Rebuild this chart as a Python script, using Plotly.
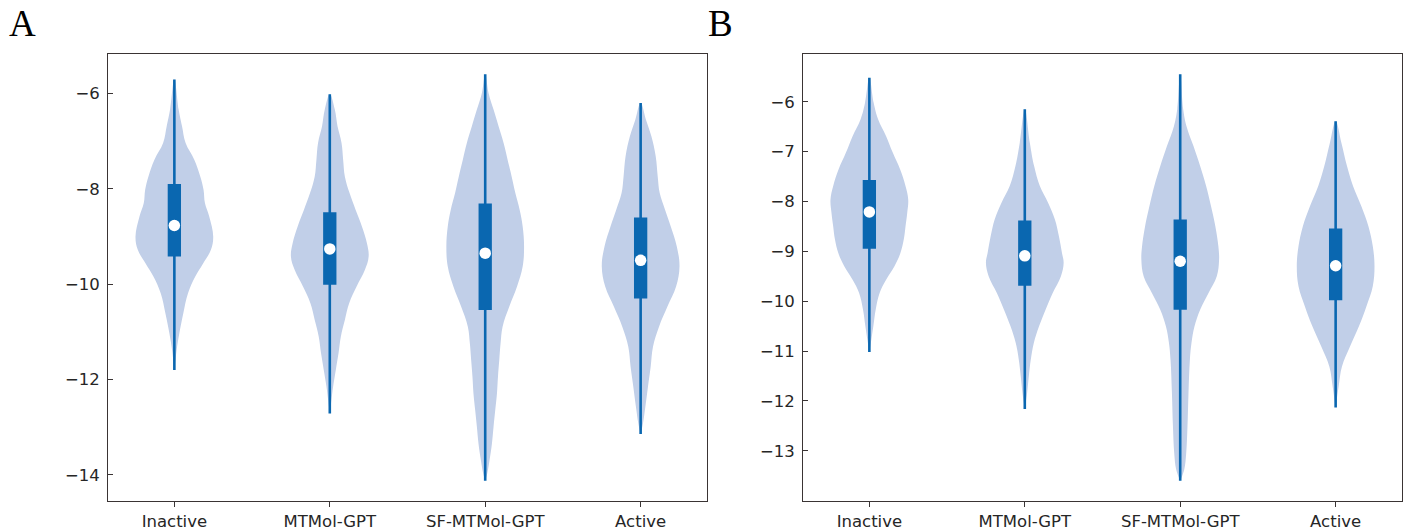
import plotly.graph_objects as go

categories = ["Inactive", "MTMol-GPT", "SF-MTMol-GPT", "Active"]
positions = [1, 2, 3, 4]

# ---------------- Panel A : violin outlines (value levels, relative density) ----------------
a_inactive_y = [-5.71, -6.34, -6.69, -7.04, -7.39, -7.74, -8.02, -8.30, -8.58, -9.00, -9.28, -9.56,
                -9.84, -10.19, -10.61, -11.03, -11.38, -11.80]
a_inactive_w = [0, 4.3, 7.7, 11.3, 20, 26, 29.3, 30.7, 35, 39, 36.7, 29, 21, 13.7, 9, 5, 2.3, 0]

a_mtmol_y = [-6.02, -6.34, -6.69, -7.04, -7.39, -7.74, -8.09, -8.44, -8.79, -9.14, -9.42, -9.70, -10.05,
             -10.40, -10.75, -11.10, -11.45, -11.80, -12.15, -12.45, -12.71]
a_mtmol_w = [0, 5, 7.7, 11.7, 13.3, 15, 19.7, 25.7, 32, 37, 38.7, 35, 26.7, 19.3, 15, 11, 8.7, 6, 3.3, 1.5, 0]

a_sf_y = [-5.60, -5.99, -6.34, -6.69, -7.04, -7.39, -7.74, -8.09, -8.44, -8.79, -9.21, -9.63, -10.05,
          -10.47, -10.89, -11.24, -11.59, -11.94, -12.29, -12.64, -12.99, -13.34, -13.69, -13.97, -14.12]
a_sf_w = [0, 3.3, 8.3, 13.3, 18.3, 22.3, 26.3, 30, 34.3, 37.3, 38.7, 37.3, 31.7, 24, 17.3, 15.3, 14,
          12.7, 11.7, 10, 8.3, 6.7, 4.3, 2, 0]

a_active_y = [-6.20, -6.55, -6.90, -7.32, -7.74, -8.09, -8.44, -8.79, -9.21, -9.63, -10.05, -10.47,
              -10.89, -11.31, -11.73, -12.15, -12.57, -12.92, -13.14]
a_active_w = [0, 5.3, 10.7, 15, 17, 19, 24.3, 30, 36, 38.7, 35.3, 26.7, 18.3, 12.3, 10, 7.3, 4.7, 2.3, 0]

a_max = [-5.71, -6.02, -5.60, -6.20]
a_q3 = [-7.90, -8.49, -8.31, -8.60]
a_med = [-8.77, -9.26, -9.35, -9.50]
a_q1 = [-9.42, -10.01, -10.54, -10.30]
a_min = [-11.80, -12.71, -14.12, -13.14]

# ---------------- Panel B ----------------
b_inactive_y = [-5.52, -6.02, -6.35, -6.69, -7.02, -7.36, -7.69, -7.96, -8.23, -8.50, -8.76, -9.03,
                -9.30, -9.57, -9.83, -10.17, -10.50, -10.77, -11.02]
b_inactive_w = [0, 4.3, 8.7, 16.7, 23.3, 30.7, 36, 38.7, 37.7, 36, 34.3, 31, 25, 16.7, 10.3, 6.3, 4, 2, 0]

b_mtmol_y = [-6.15, -6.82, -7.29, -7.69, -8.03, -8.36, -8.70, -9.03, -9.23, -9.50, -9.84, -10.17,
             -10.50, -10.84, -11.17, -11.51, -11.84, -12.16]
b_mtmol_w = [0, 5, 9.3, 15, 23.3, 30, 34, 37, 38.7, 36, 27.7, 20.7, 14.3, 9, 6, 4, 2.3, 0]

b_sf_y = [-5.45, -6.15, -6.49, -6.89, -7.29, -7.69, -8.10, -8.50, -8.90, -9.17, -9.50, -9.84, -10.17,
          -10.51, -10.84, -11.18, -11.85, -12.51, -13.05, -13.38, -13.60]
b_sf_w = [0, 3, 6.3, 13.3, 20, 26, 31, 35.3, 38.3, 39, 36.7, 28.3, 20, 14.3, 11.3, 9.7, 8.3, 7.3, 6, 4, 0]

b_active_y = [-6.39, -6.82, -7.29, -7.69, -8.10, -8.50, -8.90, -9.30, -9.70, -10.10, -10.50, -10.91,
              -11.31, -11.71, -12.13]
b_active_w = [0, 5.7, 11.3, 17.3, 25.7, 32.7, 37, 38.7, 37, 30.7, 23.3, 14.3, 6.3, 3, 0]

b_max = [-5.52, -6.15, -5.45, -6.39]
b_q3 = [-7.57, -8.38, -8.36, -8.54]
b_med = [-8.21, -9.09, -9.20, -9.29]
b_q1 = [-8.95, -9.69, -10.17, -9.98]
b_min = [-11.02, -12.16, -13.60, -12.13]

y_ticks_a = [-14, -12, -10, -8, -6]
y_ticks_b = [-13, -12, -11, -10, -9, -8, -7, -6]

FILL = "#c1cfe8"
DARK = "#0a67b0"
HALF_WIDTH = 0.25
BOX_WIDTH_PX = 13.3
WHISKER_PX = 2.6

panels = [
    ("x", "y", [(a_inactive_y, a_inactive_w), (a_mtmol_y, a_mtmol_w), (a_sf_y, a_sf_w), (a_active_y, a_active_w)],
     a_min, a_q1, a_med, a_q3, a_max),
    ("x2", "y2", [(b_inactive_y, b_inactive_w), (b_mtmol_y, b_mtmol_w), (b_sf_y, b_sf_w), (b_active_y, b_active_w)],
     b_min, b_q1, b_med, b_q3, b_max),
]

fig = go.Figure()
for xa, ya, violins, vmin, vq1, vmed, vq3, vmax in panels:
    for pos, (vy, vw) in zip(positions, violins):
        m = max(vw)
        right = [pos + HALF_WIDTH * w / m for w in vw]
        left = [pos - HALF_WIDTH * w / m for w in vw]
        xs = right + left[::-1]
        ys = vy + vy[::-1]
        fig.add_trace(go.Scatter(x=xs, y=ys, xaxis=xa, yaxis=ya, mode="lines", fill="toself",
                                 fillcolor=FILL, line=dict(width=0, color=FILL, shape="spline", smoothing=1.1),
                                 hoverinfo="skip", showlegend=False))
    for i, pos in enumerate(positions):
        fig.add_trace(go.Scatter(x=[pos, pos], y=[vmin[i], vmax[i]], xaxis=xa, yaxis=ya, mode="lines",
                                 line=dict(width=WHISKER_PX, color=DARK), hoverinfo="skip", showlegend=False))
        fig.add_trace(go.Scatter(x=[pos, pos], y=[vq1[i], vq3[i]], xaxis=xa, yaxis=ya, mode="lines",
                                 line=dict(width=BOX_WIDTH_PX, color=DARK), hoverinfo="skip", showlegend=False))
    fig.add_trace(go.Scatter(x=positions, y=vmed, xaxis=xa, yaxis=ya, mode="markers",
                             marker=dict(size=11.5, color="white", line=dict(width=0)),
                             hoverinfo="skip", showlegend=False))


def yrange(mins, maxs):
    lo, hi = min(mins), max(maxs)
    pad = 0.05 * (hi - lo)
    return [lo - pad, hi + pad]


W, H = 1406, 531
tickfont = dict(family="DejaVu Sans", size=16.5, color="#262626")
axis_common = dict(showline=True, linecolor="#3a3434", linewidth=1.3, mirror=True, showgrid=False,
                   zeroline=False, tickfont=tickfont, ticklen=5, tickwidth=1.2, tickcolor="#3a3434",
                   automargin=False)

fig.update_layout(
    width=W, height=H, margin=dict(l=0, r=0, t=0, b=0),
    paper_bgcolor="white", plot_bgcolor="white",
    xaxis=dict(domain=[108.3 / W, 706.7 / W], range=[0.575, 4.425], tickvals=positions,
               ticktext=categories, ticks="outside", anchor="y", **axis_common),
    xaxis2=dict(domain=[803.3 / W, 1401.7 / W], range=[0.575, 4.425], tickvals=positions,
                ticktext=categories, ticks="outside", anchor="y2", **axis_common),
    yaxis=dict(domain=[30 / H, 477 / H], range=yrange(a_min, a_max), tickvals=y_ticks_a,
               ticktext=["\u2212" + str(abs(v)) for v in y_ticks_a], ticks="inside",
               ticklabelstandoff=4, anchor="x", **axis_common),
    yaxis2=dict(domain=[30 / H, 477 / H], range=yrange(b_min, b_max), tickvals=y_ticks_b,
                ticktext=["\u2212" + str(abs(v)) for v in y_ticks_b], ticks="inside",
                ticklabelstandoff=4, anchor="x2", **axis_common),
    annotations=[
        dict(text="A", xref="paper", yref="paper", x=7 / W, y=1 - 23 / H, xanchor="left", yanchor="middle",
             showarrow=False, font=dict(family="Liberation Serif", size=37, color="black")),
        dict(text="B", xref="paper", yref="paper", x=706 / W, y=1 - 23 / H, xanchor="left", yanchor="middle",
             showarrow=False, font=dict(family="Liberation Serif", size=37, color="black")),
    ],
)

fig.write_html("out.html")
